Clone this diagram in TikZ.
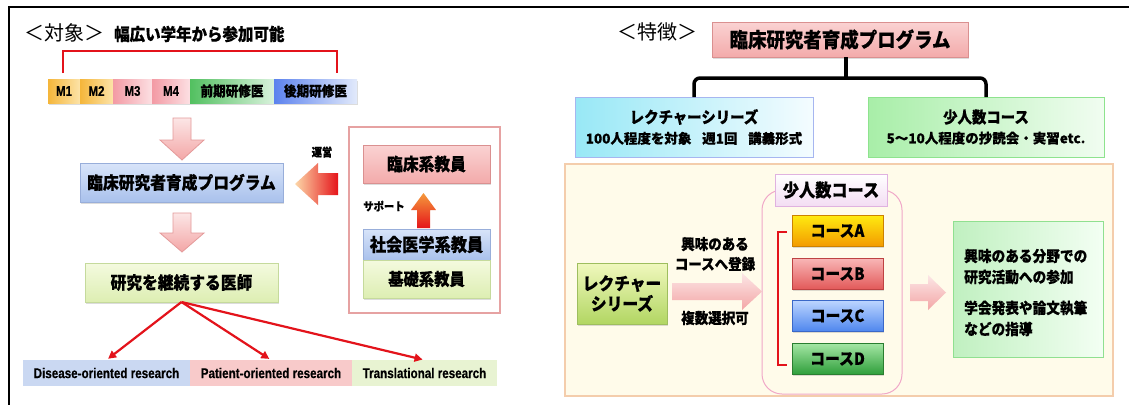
\documentclass[tikz,border=0pt]{standalone}
\usepackage{fontspec}
\setmainfont{Noto Sans CJK JP}
\newfontfamily\cond{Noto Sans CJK JP}[FakeStretch=0.9, BoldFeatures={FakeBold=0.4}]
\newfontfamily\wide{Noto Sans CJK JP}[BoldFeatures={FakeBold=0.3}]
\newfontfamily\lat{Liberation Sans}[FakeStretch=0.82, BoldFeatures={FakeBold=0.3}]
\usetikzlibrary{arrows.meta,shadows,calc}
\newcommand\myfs[1]{\fontsize{#1}{#1}\selectfont}
\definecolor{rline}{HTML}{E3131B}
\definecolor{mOL}{HTML}{F5B63A}\definecolor{mOR}{HTML}{FCE3A8}
\definecolor{mPL}{HTML}{F39AA4}\definecolor{mPR}{HTML}{FCE0E3}
\definecolor{mGL}{HTML}{52C060}\definecolor{mGR}{HTML}{D9F2DC}
\definecolor{mBL}{HTML}{5C82EE}\definecolor{mBR}{HTML}{E2EAFB}
\definecolor{pkT}{HTML}{FCE6E6}\definecolor{pkB}{HTML}{F3A6A6}\definecolor{pkD}{HTML}{E49A9A}
\definecolor{blT}{HTML}{D8E4F9}\definecolor{blB}{HTML}{A9C1EC}\definecolor{blD}{HTML}{98AEDA}
\definecolor{grT}{HTML}{F4FADF}\definecolor{grB}{HTML}{DDEEB2}\definecolor{grD}{HTML}{C5DA9C}
\definecolor{rsT}{HTML}{FAD2D2}\definecolor{rsB}{HTML}{F3ABAB}\definecolor{rsD}{HTML}{DA9090}
\definecolor{labB}{HTML}{CAD8F2}\definecolor{labP}{HTML}{F8CACA}\definecolor{labG}{HTML}{E8F3D2}
\definecolor{facD}{HTML}{E6A2A2}
\definecolor{orA}{HTML}{FCD7A8}\definecolor{orB}{HTML}{F59A3C}\definecolor{orC}{HTML}{E5141A}
\definecolor{lcL}{HTML}{98E8F6}\definecolor{lcR}{HTML}{F4FCFF}\definecolor{lcD}{HTML}{A6B6F0}
\definecolor{scL}{HTML}{A8EEA8}\definecolor{scR}{HTML}{F1FDF1}\definecolor{scD}{HTML}{8EE38E}
\definecolor{crF}{HTML}{FFFBEA}\definecolor{crD}{HTML}{F4CDAC}
\definecolor{olD}{HTML}{F0A8C8}
\definecolor{lbT}{HTML}{FFFFFF}\definecolor{lbB}{HTML}{F3DDF3}\definecolor{lbD}{HTML}{E0B2E0}
\definecolor{cAT}{HTML}{FFEA10}\definecolor{cAB}{HTML}{F39A00}\definecolor{cAD}{HTML}{CC8200}
\definecolor{cBT}{HTML}{F8B6B6}\definecolor{cBB}{HTML}{E25858}\definecolor{cBD}{HTML}{BE4242}
\definecolor{cCT}{HTML}{BCD5FF}\definecolor{cCB}{HTML}{4E86EE}\definecolor{cCD}{HTML}{3A68C8}
\definecolor{cDT}{HTML}{A4E6A4}\definecolor{cDB}{HTML}{2E9E3A}\definecolor{cDD}{HTML}{2A7E30}
\definecolor{lgT}{HTML}{F0F8BE}\definecolor{lgB}{HTML}{B2D662}\definecolor{lgD}{HTML}{9EBE5E}
\definecolor{rsL}{HTML}{C0F0C0}\definecolor{rsR}{HTML}{F3FFF3}\definecolor{rsE}{HTML}{90E090}
\begin{document}
\begin{tikzpicture}[x=1pt,y=-1pt,
  box/.style={draw, inner sep=0pt, outer sep=0pt, align=center, line width=0.8pt},
  cell/.style={inner sep=0pt, outer sep=0pt, minimum height=24, font=\lat\bfseries\myfs{14}},
  jcell/.style={cell, font=\cond\bfseries\myfs{14}},
  sh/.style={drop shadow={shadow xshift=1.3pt, shadow yshift=-1.6pt, opacity=.3, fill=black!45}},
  parrow/.style={draw=pkD, line width=0.8pt, top color=pkT, bottom color=pkB},
  rarr/.style={draw=rline, line width=2.2pt, -{Triangle[length=8pt,width=8pt]}, shorten >=2pt},
  lab/.style={inner sep=0pt, outer sep=0pt, minimum height=26, font=\lat\bfseries\myfs{14.2}},
  jb/.style={font=\cond\bfseries\myfs{#1}},
]
\useasboundingbox (0,0) rectangle (1129,405);
\fill[white] (0,0) rectangle (1129,405);
% frame
\draw[line width=2.2pt] (9,7) -- (1129,7);
\draw[line width=1.3pt] (9,6) -- (9,405);

% ---------- left panel ----------
\node[anchor=west, font=\myfs{20}, inner sep=0] (tl) at (24,33) {＜対象＞};
\node[anchor=west, jb=17.2, inner sep=0] (sub) at (114,34) {幅広い学年から参加可能};
\draw[rline, line width=2.6pt] (63,73) -- (63,51) -- (337,51) -- (337,73);
\fill[white, sh] (48,79) rectangle (357,103);
\node[cell, left color=mOL, right color=mOR, minimum width=32] (m1) at (64,91) {M1};
\node[cell, left color=mOL, right color=mOR, minimum width=33] (m2) at (96.5,91) {M2};
\node[cell, left color=mPL, right color=mPR, minimum width=39] (m3) at (132.5,91) {M3};
\node[cell, left color=mPL, right color=mPR, minimum width=38] (m4) at (171,91) {M4};
\node[jcell, left color=mGL, right color=mGR, minimum width=84] (k1) at (232,91) {前期研修医};
\node[jcell, left color=mBL, right color=mBR, minimum width=83] (k2) at (315.5,91) {後期研修医};

\path[parrow] (173,118) -- (191,118) -- (191,140) -- (204,140) -- (182,160) -- (160,140) -- (173,140) -- cycle;
\node[box, sh, draw=blD, top color=blT, bottom color=blB, minimum width=203, minimum height=39, jb=17.5] (prog) at (181.5,182.5) {臨床研究者育成プログラム};
\path[parrow] (173,213) -- (191,213) -- (191,233) -- (204,233) -- (182,252) -- (160,233) -- (173,233) -- cycle;
\node[box, sh, draw=grD, top color=grT, bottom color=grB, minimum width=193, minimum height=39, jb=17.5] (doc) at (181.5,282.5) {研究を継続する医師};

\node[lab, fill=labB, minimum width=167] (dis) at (106.5,373) {Disease-oriented research};
\node[lab, fill=labP, minimum width=162] (pat) at (271,373) {Patient-oriented research};
\node[lab, fill=labG, minimum width=145] (tra) at (424.5,373) {Translational research};
\draw[rarr] (doc.south) -- (dis.north);
\draw[rarr] (doc.south) -- (pat.north);
\draw[rarr] (doc.south) -- (tra.north);

\node[box, draw=facD, line width=1.1pt, minimum width=151, minimum height=186] (fac) at (424.5,220) {};
\node[box, sh, draw=rsD, top color=rsT, bottom color=rsB, minimum width=127, minimum height=38, jb=17.5] (rin) at (426.5,164) {臨床系教員};
\node[box, sh, draw=blD, top color=blT, bottom color=blB, minimum width=127, minimum height=31, jb=18] (sha) at (426.5,244.5) {社会医学系教員};
\node[box, sh, draw=grD, top color=grT, bottom color=grB, minimum width=127, minimum height=38, jb=17] (kis) at (426.5,279) {基礎系教員};
\path[top color=orB, bottom color=orC] (423.5,193) -- (436,210) -- (430,210) -- (430,228) -- (417,228) -- (417,210) -- (411,210) -- cycle;
\node[jb=11.5, inner sep=0] (sup) at (384,206) {サポート};
\path[left color=orA, middle color=orB, right color=orC] (295,184) -- (318,163) -- (318,173) -- (338,173) -- (338,195) -- (318,195) -- (318,205) -- cycle;
\node[jb=11.5, inner sep=0] (un) at (322,152) {運営};

% ---------- right panel ----------
\node[anchor=west, font=\myfs{20}, inner sep=0] (tr) at (617,32) {＜特徴＞};
\node[box, sh, draw=rsD, top color=rsT, bottom color=rsB, minimum width=256, minimum height=35, jb=20.5] (top) at (840,39.5) {臨床研究者育成プログラム};
\node[box, draw=lcD, left color=lcL, right color=lcR, minimum width=238, minimum height=60] (lect) at (694,127)
  {{\cond\bfseries\myfs{16}レクチャーシリーズ}\\[6pt]{\wide\bfseries\myfs{13.5}100人程度を対象\hspace{0.8em}週1回\hspace{0.8em}講義形式}};
\node[box, draw=scD, left color=scL, right color=scR, minimum width=236, minimum height=60] (small) at (986,127)
  {{\cond\bfseries\myfs{16}少人数コース}\\[6pt]{\wide\bfseries\myfs{13.5}5〜10人程度の抄読会・実習etc.}};
\coordinate (j) at (846,78);
\draw[line width=3.5pt] (top.south -| j) -- (j);
\draw[line width=3.5pt, rounded corners=6pt] (lect.north) |- (j) -| (small.north);

\node[box, draw=crD, fill=crF, line width=1.2pt, minimum width=548, minimum height=232] (cream) at (839,280) {};
\draw[olD, line width=1pt, rounded corners=20pt] (762,190) rectangle (902,394);
\node[box, draw=lbD, top color=lbT, bottom color=lbB, minimum width=112, minimum height=32, jb=18] (lbl) at (831,190) {少人数コース};
\node[box, sh, draw=cAD, top color=cAT, bottom color=cAB, minimum width=91, minimum height=31, jb=16.5] (cA) at (837.5,231) {コースA};
\node[box, sh, draw=cBD, top color=cBT, bottom color=cBB, minimum width=91, minimum height=31, jb=16.5] (cB) at (837.5,274) {コースB};
\node[box, sh, draw=cCD, top color=cCT, bottom color=cCB, minimum width=91, minimum height=31, jb=16.5] (cC) at (837.5,316) {コースC};
\node[box, sh, draw=cDD, top color=cDT, bottom color=cDB, minimum width=91, minimum height=31, jb=16.5] (cD) at (837.5,359) {コースD};
\draw[rline, line width=2pt] ($(cA.west)+(-5,1)$) -- (778,232) -- (778,365) -- ($(cD.west)+(-5,6)$);

\node[box, sh, draw=lgD, top color=lgT, bottom color=lgB, minimum width=90, minimum height=61] (lg) at (622,293.5)
  {{\cond\bfseries\myfs{17.5}レクチャー}\\[2pt]{\cond\bfseries\myfs{17.5}シリーズ}};
\path[parrow, draw=none] (672,283) -- (742,283) -- (742,273) -- (762,291.5) -- (742,310) -- (742,300) -- (672,300) -- cycle;
\node[jb=15, inner sep=0] (t1) at (715,244) {興味のある};
\node[jb=15, inner sep=0] (t2) at (715,264) {コースへ登録};
\node[jb=15, inner sep=0] (t3) at (715,318) {複数選択可};
\path[parrow, draw=none] (910,284) -- (928,284) -- (928,275) -- (946,292.5) -- (928,310) -- (928,301) -- (910,301) -- cycle;
\node[box, draw=rsE, left color=rsL, right color=rsR, minimum width=150, minimum height=136] (res) at (1028,289) {};
\node[anchor=west, jb=15.2, inner sep=0] (r1) at (964,256) {興味のある分野での};
\node[anchor=west, jb=15.2, inner sep=0] (r2) at (964,277) {研究活動への参加};
\node[anchor=west, jb=15.2, inner sep=0] (r3) at (964,308) {学会発表や論文執筆};
\node[anchor=west, jb=15.2, inner sep=0] (r4) at (964,329) {などの指導};
\end{tikzpicture}
\end{document}
